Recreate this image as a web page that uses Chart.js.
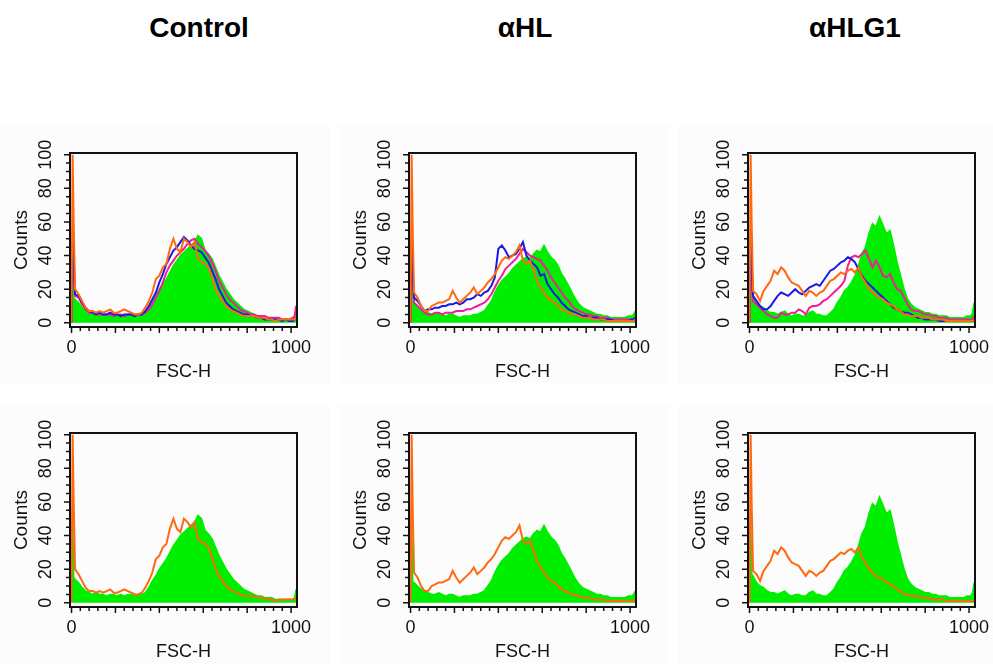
<!DOCTYPE html>
<html>
<head>
<meta charset="utf-8">
<title>FSC-H histograms</title>
<script src="https://cdn.jsdelivr.net/npm/chart.js@4.4.0/dist/chart.umd.min.js"></script>
<style>
  html, body { margin: 0; padding: 0; background: #fff; }
  body {
    width: 993px; height: 664px; position: relative; overflow: hidden;
    font-family: Arial, "Liberation Sans", sans-serif;
  }
  .head {
    position: absolute; top: 12px; line-height: 32px;
    font-size: 28px; font-weight: bold; color: #000;
    transform: translateX(-50%); white-space: nowrap;
  }
  .panel { position: absolute; width: 330px; height: 258px; background: #fcfcfc; }
</style>
</head>
<body>
<div class="head" style="left:199px">Control</div>
<div class="head" style="left:525px">αHL</div>
<div class="head" style="left:855px">αHLG1</div>

<div class="panel" style="left:0px;top:125px"><canvas id="p-control-all" width="330" height="258"></canvas></div>
<div class="panel" style="left:339px;top:125px"><canvas id="p-hl-all" width="330" height="258"></canvas></div>
<div class="panel" style="left:678px;top:125px"><canvas id="p-hlg1-all" width="330" height="258"></canvas></div>
<div class="panel" style="left:0px;top:405px"><canvas id="p-control-two" width="330" height="258"></canvas></div>
<div class="panel" style="left:339px;top:405px"><canvas id="p-hl-two" width="330" height="258"></canvas></div>
<div class="panel" style="left:678px;top:405px"><canvas id="p-hlg1-two" width="330" height="258"></canvas></div>

<script>
// FSC-H channel of each histogram point (shared by every series)
const fscChannels = [
  0, 5, 10,
  16, 32, 48, 64, 80, 96, 112, 128,
  144, 160, 176, 192, 208, 224, 240, 256,
  272, 288, 304, 320, 336, 352, 368, 384,
  400, 416, 432, 448, 464, 480, 496, 512,
  528, 544, 560, 576, 592, 608, 624, 640,
  656, 672, 688, 704, 720, 736, 752, 768,
  784, 800, 816, 832, 848, 864, 880, 896,
  912, 928, 944, 960, 976, 992, 1008,
  1016, 1023
];

// Control
const controlGreen = [
  50, 50, 15,
  14, 12, 9, 7, 6, 5, 6, 5,
  5, 4, 5, 5, 4, 5, 4, 5,
  5, 4, 5, 5, 6, 9, 13, 16,
  20, 23, 26, 30, 34, 37, 40, 42,
  44, 46, 48, 52, 50, 43, 41, 38,
  33, 28, 24, 20, 17, 14, 12, 10,
  8, 7, 6, 5, 4, 4, 3, 3,
  3, 2, 2, 2, 2, 2, 2,
  3, 8
];
const controlOrange = [
  0, 100, 58,
  20, 17, 13, 9, 7, 7, 6, 7,
  6, 7, 8, 6, 6, 7, 8, 7,
  6, 5, 5, 6, 9, 13, 18, 26,
  28, 33, 35, 44, 50, 44, 42, 50,
  48, 45, 48, 38, 36, 35, 33, 27,
  20, 16, 13, 10, 8, 7, 6, 5,
  4, 4, 4, 4, 3, 3, 3, 2,
  2, 1, 2, 2, 2, 2, 2,
  2, 3
];
const controlBlue = [
  0, 48, 40,
  17, 16, 12, 9, 7, 6, 5, 6,
  5, 5, 6, 5, 5, 4, 5, 5,
  5, 4, 5, 5, 7, 10, 14, 18,
  24, 29, 35, 39, 43, 45, 48, 51,
  49, 46, 44, 43, 42, 39, 36, 31,
  26, 20, 16, 12, 10, 8, 7, 6,
  5, 5, 4, 4, 3, 3, 2, 2,
  2, 2, 2, 1, 2, 1, 1,
  2, 3
];
const controlMagenta = [
  0, 40, 30,
  16, 15, 11, 8, 6, 6, 5, 5,
  5, 5, 5, 4, 5, 5, 4, 5,
  5, 5, 5, 5, 6, 8, 11, 15,
  19, 24, 30, 34, 37, 40, 42, 44,
  47, 49, 50, 47, 45, 43, 40, 36,
  31, 25, 21, 17, 14, 12, 10, 8,
  7, 6, 5, 5, 4, 4, 4, 3,
  3, 3, 3, 2, 2, 2, 3,
  4, 10
];

// αHL
const hlGreen = [
  50, 50, 12,
  12, 10, 8, 7, 6, 5, 5, 6,
  5, 4, 5, 5, 4, 3, 4, 4,
  4, 5, 5, 6, 7, 10, 13, 18,
  22, 25, 27, 29, 32, 34, 36, 38,
  39, 38, 41, 43, 42, 46, 42, 39,
  37, 34, 29, 26, 22, 18, 14, 11,
  9, 8, 7, 6, 5, 5, 4, 4,
  3, 3, 3, 3, 3, 4, 4,
  5, 7
];
const hlOrange = [
  0, 100, 55,
  18, 15, 10, 7, 7, 10, 11, 12,
  12, 13, 14, 19, 15, 12, 14, 16,
  18, 21, 17, 19, 21, 24, 26, 29,
  33, 37, 39, 38, 40, 42, 46, 37,
  35, 37, 31, 25, 21, 18, 15, 13,
  12, 10, 8, 7, 6, 5, 5, 4,
  3, 3, 3, 2, 2, 2, 2, 1,
  1, 1, 1, 1, 1, 1, 1,
  1, 2
];
const hlBlue = [
  0, 48, 30,
  15, 13, 10, 7, 8, 8, 9, 9,
  10, 10, 11, 11, 12, 11, 12, 14,
  14, 15, 17, 16, 18, 19, 22, 27,
  44, 46, 43, 39, 40, 41, 44, 48,
  40, 37, 35, 33, 28, 29, 23, 20,
  17, 15, 12, 10, 8, 7, 6, 5,
  4, 4, 3, 3, 3, 2, 2, 2,
  2, 1, 1, 1, 1, 1, 2,
  2, 3
];
const hlMagenta = [
  0, 40, 25,
  12, 10, 8, 6, 5, 5, 6, 6,
  5, 6, 6, 6, 7, 7, 7, 8,
  8, 9, 10, 11, 12, 14, 17, 21,
  25, 28, 32, 34, 36, 38, 41, 44,
  42, 40, 39, 38, 37, 34, 31, 27,
  24, 21, 18, 15, 13, 10, 8, 7,
  6, 5, 5, 4, 4, 3, 3, 3,
  2, 2, 2, 2, 2, 2, 2,
  2, 3
];

// αHLG1
const hlg1Green = [
  50, 50, 17,
  16, 12, 10, 9, 7, 6, 6, 5,
  6, 7, 5, 4, 5, 5, 4, 4,
  6, 7, 5, 5, 4, 4, 6, 8,
  12, 15, 19, 21, 24, 28, 34, 41,
  45, 53, 59, 57, 63, 58, 53, 55,
  46, 36, 28, 20, 14, 11, 9, 8,
  7, 6, 6, 5, 5, 4, 4, 4,
  3, 3, 3, 3, 3, 4, 4,
  6, 12
];
const hlg1Orange = [
  0, 100, 57,
  19, 17, 13, 19, 22, 25, 31, 29,
  33, 31, 27, 24, 23, 22, 19, 16,
  19, 18, 16, 18, 19, 22, 25, 26,
  28, 30, 29, 31, 32, 30, 33, 27,
  24, 20, 18, 16, 15, 14, 12, 11,
  10, 8, 7, 5, 5, 4, 4, 4,
  3, 3, 3, 2, 2, 2, 2, 1,
  1, 1, 1, 1, 1, 1, 1,
  1, 1
];
const hlg1Blue = [
  0, 48, 35,
  16, 13, 10, 8, 8, 10, 13, 16,
  18, 17, 16, 18, 20, 18, 17, 19,
  21, 22, 23, 22, 25, 28, 31, 32,
  34, 36, 37, 39, 38, 36, 32, 28,
  25, 23, 21, 19, 17, 15, 13, 11,
  9, 8, 7, 6, 6, 5, 4, 3,
  3, 2, 2, 2, 2, 1, 1, 1,
  1, 1, 1, 1, 1, 1, 1,
  1, 1
];
const hlg1Magenta = [
  0, 37, 22,
  13, 11, 9, 7, 5, 4, 3, 3,
  6, 5, 5, 6, 6, 8, 7, 5,
  9, 10, 10, 11, 13, 14, 16, 18,
  20, 22, 25, 34, 39, 40, 39, 41,
  43, 38, 33, 37, 33, 28, 27, 29,
  24, 20, 19, 15, 11, 8, 7, 7,
  6, 5, 5, 4, 4, 3, 3, 3,
  2, 2, 2, 2, 2, 2, 2,
  2, 4
];

const GREEN = "#00ee00",
  ORANGE = "#ff6a10",
  BLUE = "#1a1ae6",
  MAGENTA = "#ee2096";
const LABEL_FONT = 'Arial, "Liberation Sans", sans-serif';
const LABEL_COLOR = "#111";

// Box, outside tick marks and rotated y tick labels, like the cytometer plots
const facsFrame = {
  id: "facsFrame",
  afterDraw(chart) {
    const { ctx, chartArea: a, scales } = chart;
    const x = scales.x, y = scales.y;
    ctx.save();
    ctx.strokeStyle = "#111";
    ctx.lineWidth = 2;
    ctx.strokeRect(a.left, a.top, a.right - a.left, a.bottom - a.top);

    ctx.lineWidth = 1.5;
    ctx.beginPath();
    x.ticks.forEach((t) => {
      let px = x.getPixelForValue(t.value),
        len = t.value % 200 === 0 ? 6 : 4;
      ctx.moveTo(px, a.bottom);
      ctx.lineTo(px, a.bottom + len);
    });
    y.ticks.forEach((t) => {
      let py = y.getPixelForValue(t.value),
        len = t.value % 20 === 0 ? 6 : 4;
      ctx.moveTo(a.left, py);
      ctx.lineTo(a.left - len, py);
    });
    ctx.stroke();

    ctx.fillStyle = LABEL_COLOR;
    ctx.font = "18px " + LABEL_FONT;
    ctx.textAlign = "center";
    ctx.textBaseline = "middle";
    y.ticks
      .filter((t) => t.value % 20 === 0)
      .forEach((t) => {
        ctx.save();
        ctx.translate(a.left - 24, y.getPixelForValue(t.value));
        ctx.rotate(-Math.PI / 2);
        ctx.fillText(String(t.value), 0, 0);
        ctx.restore();
      });
    ctx.restore();
  },
};

function histogram(values, color, filled) {
  return {
    data: fscChannels.map((ch, i) => ({ x: ch, y: values[i] })),
    borderColor: color,
    backgroundColor: color,
    borderWidth: filled ? 1.5 : 2,
    fill: filled ? "origin" : false,
    pointRadius: 0,
    tension: 0,
  };
}

function makePanel(id, series) {
  new Chart(document.getElementById(id).getContext("2d"), {
    type: "line",
    data: { datasets: series },
    options: {
      responsive: false,
      animation: false,
      events: [],
      layout: { padding: { left: 10, top: 28, right: 33, bottom: 0 } },
      plugins: { legend: { display: false }, tooltip: { enabled: false } },
      scales: {
        x: {
          type: "linear",
          min: -7,
          max: 1027,
          grid: { display: false, drawTicks: false },
          border: { display: false },
          ticks: {
            stepSize: 40,
            includeBounds: false,
            autoSkip: false,
            maxRotation: 0,
            padding: 10,
            color: LABEL_COLOR,
            font: { family: LABEL_FONT, size: 18 },
            callback: (v) => (v === 0 || v === 1000 ? String(v) : ""),
          },
          title: {
            display: true,
            text: "FSC-H",
            color: LABEL_COLOR,
            padding: 0,
            font: { family: LABEL_FONT, size: 18 },
          },
          afterFit: (s) => {
            s.height = 56;
          },
        },
        y: {
          min: -2.5,
          max: 101,
          grid: { display: false, drawTicks: false },
          border: { display: false },
          ticks: { stepSize: 5, includeBounds: false, display: false },
          title: {
            display: true,
            text: "Counts",
            color: LABEL_COLOR,
            padding: 0,
            font: { family: LABEL_FONT, size: 19 },
          },
          afterFit: (s) => {
            s.width = 60;
          },
        },
      },
    },
    plugins: [facsFrame],
  });
}

// first dataset is drawn on top, the filled green one at the bottom
makePanel("p-control-all", [
  histogram(controlOrange, ORANGE),
  histogram(controlBlue, BLUE),
  histogram(controlMagenta, MAGENTA),
  histogram(controlGreen, GREEN, true),
]);
makePanel("p-hl-all", [
  histogram(hlOrange, ORANGE),
  histogram(hlBlue, BLUE),
  histogram(hlMagenta, MAGENTA),
  histogram(hlGreen, GREEN, true),
]);
makePanel("p-hlg1-all", [
  histogram(hlg1Orange, ORANGE),
  histogram(hlg1Blue, BLUE),
  histogram(hlg1Magenta, MAGENTA),
  histogram(hlg1Green, GREEN, true),
]);
makePanel("p-control-two", [
  histogram(controlOrange, ORANGE),
  histogram(controlGreen, GREEN, true),
]);
makePanel("p-hl-two", [
  histogram(hlOrange, ORANGE),
  histogram(hlGreen, GREEN, true),
]);
makePanel("p-hlg1-two", [
  histogram(hlg1Orange, ORANGE),
  histogram(hlg1Green, GREEN, true),
]);
</script>
</body>
</html>
